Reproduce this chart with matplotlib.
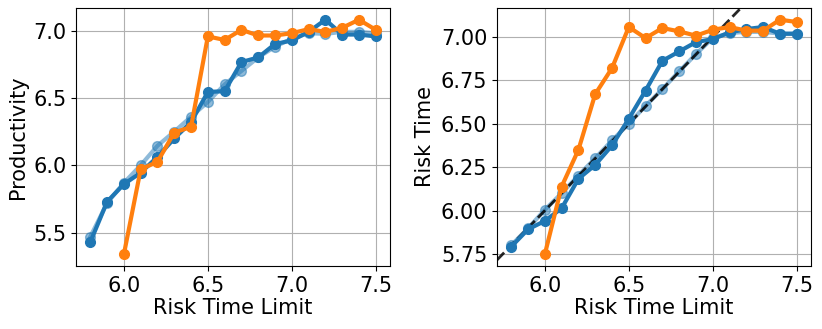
import matplotlib
matplotlib.use("Agg")
import matplotlib.pyplot as plt

plt.rcParams["font.size"] = 15

limits = [5.8, 5.9, 6.0, 6.1, 6.2, 6.3, 6.4, 6.5, 6.6, 6.7,
          6.8, 6.9, 7.0, 7.1, 7.2, 7.3, 7.4, 7.5]
limits_orange = limits[2:]

# productivity panel
prod_blue = [5.43, 5.73, 5.86, 5.945, 6.063, 6.199, 6.32, 6.544, 6.55, 6.766,
             6.80, 6.90, 6.926, 6.99, 7.08, 6.97, 6.97, 6.956]
prod_light = [5.47, 5.72, 5.87, 6.00, 6.145, 6.25, 6.36, 6.47, 6.60, 6.70,
              6.80, 6.88, 6.94, 6.98, 6.975, 6.99, 6.99, 6.98]
prod_orange = [5.34, 5.97, 6.026, 6.243, 6.285, 6.956, 6.93, 7.005, 6.963,
               6.963, 6.98, 7.01, 6.99, 7.02, 7.08, 7.005]

# risk time panel
risk_blue = [5.792, 5.892, 5.94, 6.013, 6.183, 6.263, 6.375, 6.529, 6.692, 6.863,
             6.917, 6.971, 6.988, 7.027, 7.046, 7.058, 7.019, 7.019]
risk_light = [5.80, 5.898, 6.004, 6.10, 6.202, 6.302, 6.404, 6.50, 6.604, 6.70,
              6.802, 6.902, 6.994, 7.023, 7.03, 7.03, 7.02, 7.02]
risk_orange = [5.748, 6.138, 6.35, 6.671, 6.821, 7.058, 6.994, 7.052, 7.033,
               7.008, 7.042, 7.058, 7.037, 7.037, 7.10, 7.087]

fig = plt.figure(figsize=(8.22, 3.29), dpi=100)
ax1 = fig.add_axes([0.0925, 0.1915, 0.382, 0.7842])
ax2 = fig.add_axes([0.6046, 0.1915, 0.382, 0.7842])

style = dict(marker="o", lw=3, ms=7)

for ax, light, blue, orange in [(ax1, prod_light, prod_blue, prod_orange),
                                (ax2, risk_light, risk_blue, risk_orange)]:
    ax.plot(limits, light, color="C0", alpha=0.5, zorder=2, **style)
    ax.plot(limits, blue, color="C0", zorder=3, **style)
    ax.plot(limits_orange, orange, color="C1", zorder=3, **style)
    ax.grid(True)
    ax.set_xlabel("Risk Time Limit", labelpad=2)

# y = x reference, without touching the autoscaled limits
xl, yl = ax2.get_xlim(), ax2.get_ylim()
ax2.axline((0, 0), (1, 1), color="black", ls="--", lw=2, alpha=0.85, zorder=2.5)
ax2.set_xlim(xl)
ax2.set_ylim(yl)

ax1.set_ylabel("Productivity")
ax2.set_ylabel("Risk Time")
ax1.set_xticks([6.0, 6.5, 7.0, 7.5])
ax2.set_xticks([6.0, 6.5, 7.0, 7.5])
ax1.set_yticks([5.5, 6.0, 6.5, 7.0])
ax2.set_yticks([5.75, 6.0, 6.25, 6.5, 6.75, 7.0])

fig.savefig("out.png", dpi=100)
